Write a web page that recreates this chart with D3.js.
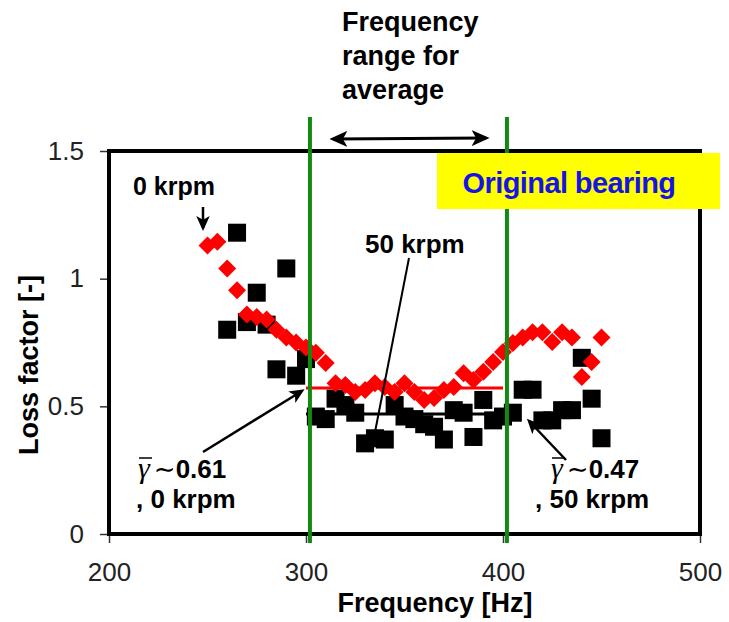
<!DOCTYPE html>
<html>
<head>
<meta charset="utf-8">
<script src="https://cdn.jsdelivr.net/npm/d3@7"></script>
<style>
  body { margin: 0; background: #fff; }
  svg { display: block; font-family: "Liberation Sans", Arial, sans-serif; }
</style>
</head>
<body>
<script>
var width = 729,
    height = 622;

// 0 krpm (red diamonds), every 5 Hz from 250 to 450
var freq0 = d3.range(250, 451, 5);
var loss0 = [1.13, 1.145, 1.04, 0.955, 0.86, 0.85, 0.84, 0.80, 0.77, 0.75,
             0.73, 0.71, 0.67, 0.59, 0.584, 0.556, 0.564, 0.59, 0.576, 0.556,
             0.59, 0.556, 0.525, 0.533, 0.564, 0.576, 0.63, 0.603, 0.635, 0.674,
             0.713, 0.748, 0.77, 0.79, 0.79, 0.752, 0.79, 0.77, 0.615, 0.674, 0.77];

// 50 krpm (black squares), every 5 Hz from 260 to 450
var freq50 = d3.range(260, 451, 5);
var loss50 = [0.80, 1.18, 0.83, 0.945, 0.82, 0.645, 1.04, 0.62, 0.685, 0.46,
              0.45, 0.53, 0.505, 0.475, 0.355, 0.375, 0.37, 0.505, 0.46, 0.45,
              0.43, 0.42, 0.37, 0.485, 0.475, 0.38, 0.525, 0.445, 0.46, 0.475,
              0.565, 0.565, 0.445, 0.445, 0.485, 0.485, 0.69, 0.53, 0.375];

// averages over the range
var avgRange = [300, 400];
var avg0 = 0.572, avg50 = 0.47;
var bandLines = [302, 402];

var xTicks = [200, 300, 400, 500];
var yTicks = [0, 0.5, 1, 1.5];

var svg = d3.select('body').append('svg')
    .attr('width', width)
    .attr('height', height);

var x = d3.scaleLinear().domain([200, 500]).range([109, 700]);
var y = d3.scaleLinear().domain([0, 1.5]).range([534, 151]);

var defs = svg.append('defs');
defs.append('marker')
    .attr('id', 'head')
    .attr('viewBox', '0 0 10 10')
    .attr('refX', 8).attr('refY', 5)
    .attr('markerWidth', 6).attr('markerHeight', 6)
    .attr('markerUnits', 'strokeWidth')
    .attr('orient', 'auto-start-reverse')
    .append('path')
    .attr('d', 'M0,0.5 L10,5 L0,9.5 L2.5,5 Z')
    .attr('fill', '#000');

//axes
var yAxis = svg.append('g')
    .attr('transform', 'translate(109,0)')
    .call(d3.axisLeft(y).tickValues(yTicks).tickSize(9).tickPadding(16)
        .tickFormat(function(d){ return d; }));
var xAxis = svg.append('g')
    .attr('transform', 'translate(0,534)')
    .call(d3.axisBottom(x).tickValues(xTicks).tickSize(9).tickPadding(20));

[yAxis, xAxis].forEach(function(g){
    g.select('.domain').remove();
    g.selectAll('line').attr('stroke', '#333').attr('stroke-width', 1.5);
    g.selectAll('text').attr('font-size', 26).attr('fill', '#222')
        .attr('font-family', '"Liberation Sans", Arial, sans-serif');
});

// average lines
svg.append('line')
    .attr('x1', x(avgRange[0])).attr('x2', x(avgRange[1]))
    .attr('y1', y(avg50)).attr('y2', y(avg50))
    .attr('stroke', '#000').attr('stroke-width', 3);
svg.append('line')
    .attr('x1', x(avgRange[0])).attr('x2', x(avgRange[1]))
    .attr('y1', y(avg0)).attr('y2', y(avg0))
    .attr('stroke', '#ff0000').attr('stroke-width', 3);

// 50 krpm squares
var sq = 18;
svg.append('g').selectAll('rect')
    .data(freq50)
    .enter().append('rect')
    .attr('x', function(d){ return x(d) - sq/2; })
    .attr('y', function(d, i){ return y(loss50[i]) - sq/2; })
    .attr('width', sq).attr('height', sq)
    .attr('fill', '#000');

// 0 krpm diamonds
var r = 9;
svg.append('g').selectAll('path')
    .data(freq0)
    .enter().append('path')
    .attr('d', function(d, i){
        var cx = x(d), cy = y(loss0[i]);
        return 'M' + cx + ',' + (cy - r) + 'L' + (cx + r) + ',' + cy +
               'L' + cx + ',' + (cy + r) + 'L' + (cx - r) + ',' + cy + 'Z';
    })
    .attr('fill', '#ff0000');

// frame
svg.append('rect')
    .attr('x', x(200)).attr('y', y(1.5))
    .attr('width', x(500) - x(200)).attr('height', y(0) - y(1.5))
    .attr('fill', 'none').attr('stroke', '#000').attr('stroke-width', 4);

// green band lines
svg.selectAll('.band')
    .data(bandLines)
    .enter().append('line')
    .attr('x1', function(d){ return x(d); }).attr('x2', function(d){ return x(d); })
    .attr('y1', 117).attr('y2', 543)
    .attr('stroke', '#128a12').attr('stroke-width', 4);

// legend box
svg.append('rect')
    .attr('x', 437).attr('y', 153).attr('width', 283).attr('height', 56)
    .attr('fill', '#ffff00');
svg.append('text')
    .attr('x', 569).attr('y', 193)
    .attr('text-anchor', 'middle')
    .attr('font-size', 29).attr('font-weight', 'bold').attr('fill', '#1414e6')
    .attr('letter-spacing', -0.6)
    .text('Original bearing');

// axis titles
svg.append('text')
    .attr('transform', 'translate(38,365) rotate(-90)')
    .attr('text-anchor', 'middle')
    .attr('font-size', 27).attr('font-weight', 'bold')
    .text('Loss factor [-]');
svg.append('text')
    .attr('x', 435).attr('y', 612)
    .attr('text-anchor', 'middle')
    .attr('font-size', 27).attr('font-weight', 'bold')
    .text('Frequency [Hz]');

// frequency range note
var note = svg.append('text')
    .attr('font-size', 27).attr('font-weight', 'bold');
['Frequency', 'range for', 'average'].forEach(function(t, i){
    note.append('tspan').attr('x', 342).attr('y', 31 + i * 34).text(t);
});
svg.append('line')
    .attr('x1', 333).attr('x2', 486).attr('y1', 139).attr('y2', 138)
    .attr('stroke', '#000').attr('stroke-width', 3)
    .attr('marker-start', 'url(#head)').attr('marker-end', 'url(#head)');

// 0 krpm label
svg.append('text')
    .attr('x', 133).attr('y', 195)
    .attr('font-size', 25).attr('font-weight', 'bold')
    .text('0 krpm');
svg.append('line')
    .attr('x1', 203).attr('x2', 203).attr('y1', 207).attr('y2', 228)
    .attr('stroke', '#000').attr('stroke-width', 2.5)
    .attr('marker-end', 'url(#head)');

// 50 krpm label
svg.append('text')
    .attr('x', 365).attr('y', 253)
    .attr('font-size', 26).attr('font-weight', 'bold')
    .text('50 krpm');
svg.append('line')
    .attr('x1', 409).attr('y1', 258).attr('x2', 375).attr('y2', 432)
    .attr('stroke', '#000').attr('stroke-width', 2);

// gamma labels
function gammaLabel(x0, val, rpm, x1){
    var t = svg.append('text').attr('font-size', 26).attr('font-weight', 'bold');
    t.append('tspan').attr('x', x0).attr('y', 478)
        .attr('font-family', '"Liberation Serif", "DejaVu Serif", serif')
        .attr('font-style', 'italic').attr('font-weight', 'normal')
        .attr('font-size', 30).text('γ');
    t.append('tspan').attr('font-weight', 'normal').attr('dx', 4)
        .attr('font-family', '"DejaVu Sans", sans-serif').text('∼');
    t.append('tspan').text(val);
    svg.append('line')
        .attr('x1', x0 + 1).attr('x2', x0 + 14).attr('y1', 458).attr('y2', 458)
        .attr('stroke', '#000').attr('stroke-width', 1.5);
    svg.append('text').attr('x', x1).attr('y', 508)
        .attr('font-size', 26).attr('font-weight', 'bold')
        .text(rpm);
}
gammaLabel(138, '0.61', ', 0 krpm', 136);
gammaLabel(551, '0.47', ', 50 krpm', 535);

svg.append('line')
    .attr('x1', 203).attr('y1', 452).attr('x2', x(avgRange[0]) - 4).attr('y2', y(avg0) + 3)
    .attr('stroke', '#000').attr('stroke-width', 2.5)
    .attr('marker-end', 'url(#head)');
svg.append('line')
    .attr('x1', 566).attr('y1', 460).attr('x2', 529).attr('y2', 421)
    .attr('stroke', '#000').attr('stroke-width', 2.5)
    .attr('marker-end', 'url(#head)');
</script>
</body>
</html>
